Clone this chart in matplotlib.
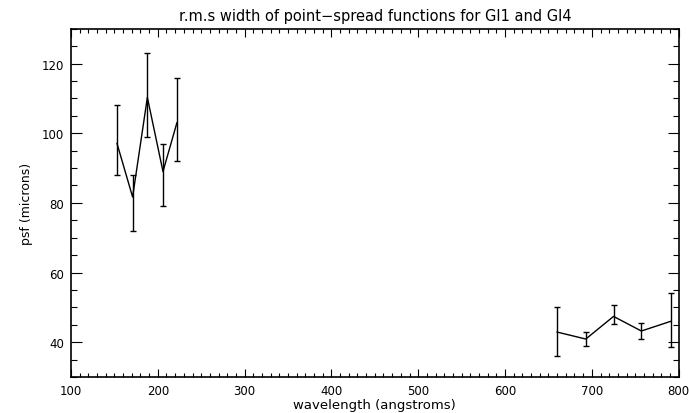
import matplotlib
matplotlib.use("Agg")
import matplotlib.pyplot as plt
from matplotlib.ticker import MultipleLocator

# Data
wl_g1 = [153, 171, 188, 206, 222]
psf_g1 = [97.1, 81.7, 110.3, 89.0, 103.0]
err_lo_g1 = [88.0, 72.0, 99.0, 79.0, 92.0]
err_hi_g1 = [108.0, 88.0, 123.0, 97.0, 116.0]

wl_g4 = [660, 693, 725, 757, 791]
psf_g4 = [42.9, 40.9, 47.4, 43.2, 46.0]
err_lo_g4 = [36.0, 38.9, 45.2, 41.0, 38.6]
err_hi_g4 = [50.0, 42.9, 50.6, 45.4, 54.0]

title = "r.m.s width of point\u2212spread functions for GI1 and GI4"
xlabel = "wavelength (angstroms)"
ylabel = "psf (microns)"

plt.rcParams['font.family'] = ['DejaVu Sans']
fig = plt.figure(figsize=(6.89, 4.14), dpi=100)
ax = fig.add_axes([0.103, 0.087, 0.882, 0.841])

for wl, p, lo, hi in [(wl_g1, psf_g1, err_lo_g1, err_hi_g1),
                      (wl_g4, psf_g4, err_lo_g4, err_hi_g4)]:
    yerr = [[pi - l for pi, l in zip(p, lo)], [h - pi for pi, h in zip(p, hi)]]
    ax.errorbar(wl, p, yerr=yerr, color='black', lw=1.0, elinewidth=1.0,
                capsize=2.5, capthick=1.0)

ax.set_xlim(100, 800)
ax.set_ylim(30, 130)
ax.xaxis.set_major_locator(MultipleLocator(100))
ax.xaxis.set_minor_locator(MultipleLocator(10))
ax.yaxis.set_minor_locator(MultipleLocator(5))
ax.set_yticks([40, 60, 80, 100, 120])
ax.tick_params(which='both', direction='in', top=True, right=True, width=0.8)
ax.tick_params(axis='y', which='major', length=8)
ax.tick_params(axis='y', which='minor', length=4)
ax.tick_params(axis='x', which='major', length=6)
ax.tick_params(axis='x', which='minor', length=3)
ax.tick_params(which='major', labelsize=8.5, pad=5)
for s in ax.spines.values():
    s.set_linewidth(1.2)

ax.set_title(title, fontsize=10.5, pad=6)
ax.set_xlabel(xlabel, fontsize=9.5, labelpad=1)
ax.set_ylabel(ylabel, fontsize=9, labelpad=6)

fig.savefig("out.png", dpi=100)
